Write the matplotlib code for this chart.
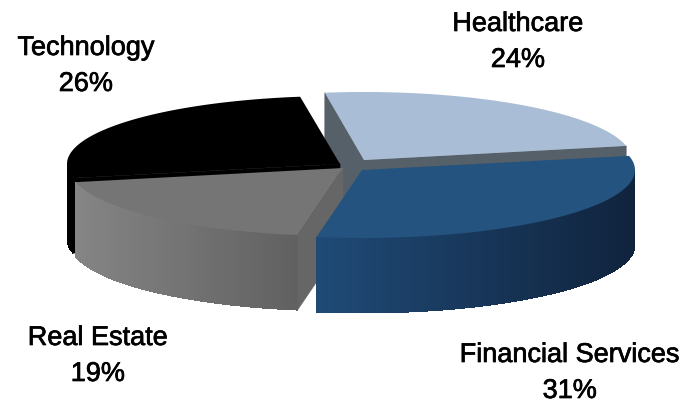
import numpy as np
import matplotlib
matplotlib.use('Agg')
import matplotlib.pyplot as plt
import matplotlib.patheffects as pe
from matplotlib.colors import to_rgb

# data
labels = ['Healthcare', 'Financial Services', 'Real Estate', 'Technology']
values = [24, 31, 19, 26]

# styles
topColors = ['#a9bdd6', '#25537f', '#757575', '#000000']
faceColors = ['#566069', '#1f4670', '#666666', '#000000']
wallLeft = ['#566069', '#1f4a76', '#858585', '#000000']
wallRight = ['#566069', '#10233d', '#606060', '#000000']

# where each exploded slice sits, in pixels
apexX = [364, 362, 343, 340]
apexY = [160, 170, 168, 164]
radiusX = [268, 273, 273, 273]
labelX = [518, 570, 98, 86]
labelY = [24, 355, 338, 48]

ry = 68
depth = 75
startAngle = 98.4


def rim(ax0, ay0, rx, ang):
    return ax0 + rx * np.cos(ang), ay0 - ry * np.sin(ang)


fig = plt.figure(figsize=(6.84, 4.04), dpi=100)
ax = fig.add_axes([0, 0, 1, 1])
ax.set_xlim(0, 684)
ax.set_ylim(404, 0)
ax.axis('off')

# slice angles, clockwise from the start angle
ends = startAngle - np.cumsum(values) * 3.6
starts = ends + np.array(values) * 3.6

# back to front
for i in [0, 3, 2, 1]:
    a0, a1 = np.radians(ends[i]), np.radians(starts[i])
    x0, y0, rx = apexX[i], apexY[i], radiusX[i]

    # cut faces, only the ones turned towards the viewer
    for ang, normal in [(a0, a0 - np.pi / 2), (a1, a1 + np.pi / 2)]:
        if np.sin(normal) < 0:
            xr, yr = rim(x0, y0, rx, ang)
            ax.fill([x0, xr, xr, x0], [y0, yr, yr + depth, y0 + depth],
                    color=faceColors[i], lw=0.5)

    # outer wall with a gradient along x
    t = np.linspace(a0, a1, 90)
    t = t[np.sin(t) <= 0]
    if len(t) > 1:
        xs, ys = rim(x0, y0, rx, t)
        left = np.array(to_rgb(wallLeft[i]))
        right = np.array(to_rgb(wallRight[i]))
        for j in range(len(t) - 1):
            f = (xs[j] - xs.min()) / (xs.max() - xs.min())
            col = left + (right - left) * f
            ax.fill([xs[j], xs[j + 1], xs[j + 1], xs[j]],
                    [ys[j], ys[j + 1], ys[j + 1] + depth, ys[j] + depth],
                    color=col, lw=0, antialiased=False)

    # top face
    t = np.linspace(a0, a1, 120)
    xs, ys = rim(x0, y0, rx, t)
    ax.fill(np.r_[x0, xs], np.r_[y0, ys], color=topColors[i], lw=0)

# labels
for i in range(len(labels)):
    for line, dy in [(labels[i], 0), (str(values[i]) + '%', 36)]:
        ax.text(labelX[i], labelY[i] + dy, line, ha='center', va='center',
                fontsize=19.5, family='Liberation Sans', color='black',
                path_effects=[pe.withStroke(linewidth=0.5, foreground='black')])

fig.savefig('out.png', dpi=100)
